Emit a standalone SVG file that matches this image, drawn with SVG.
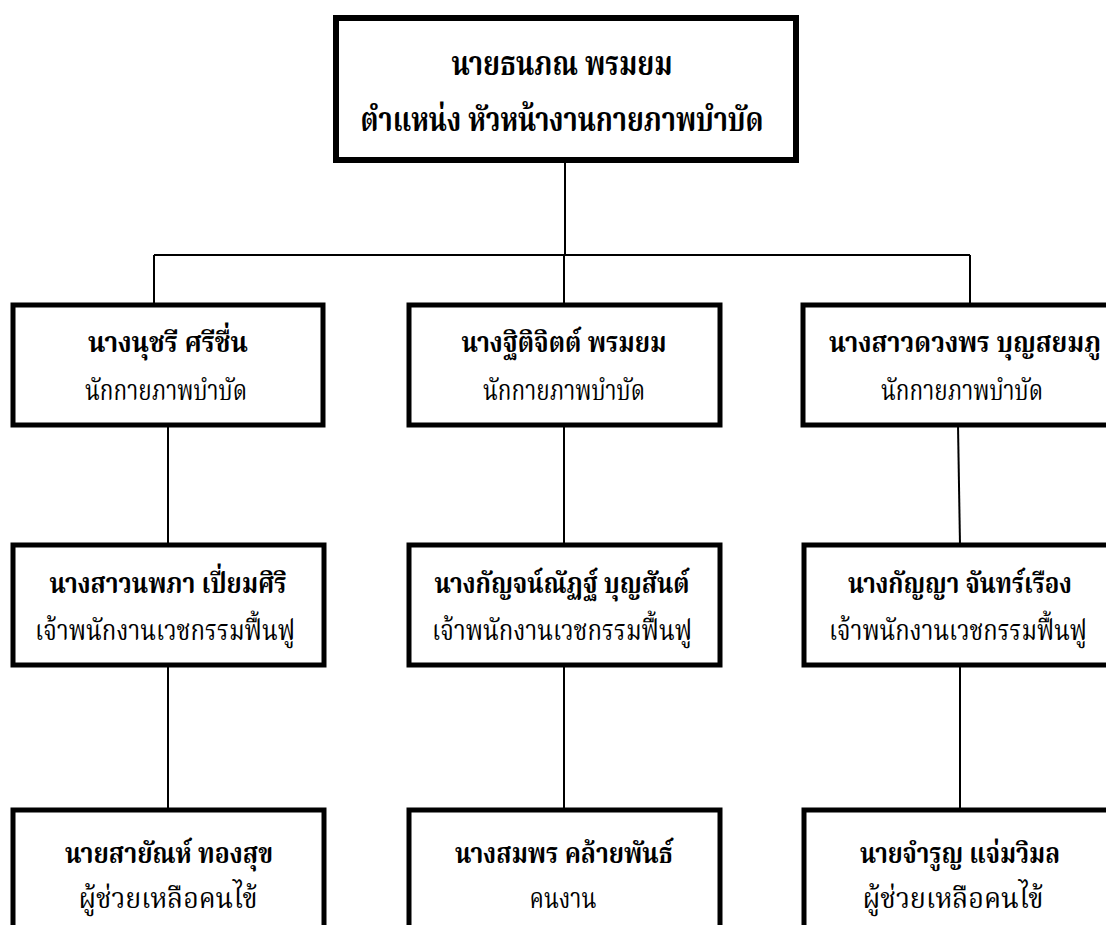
<svg xmlns="http://www.w3.org/2000/svg" width="1106" height="925" viewBox="0 0 1106 925">
<style>
.box{fill:#fff;stroke:#000;stroke-width:5}
.top{fill:#fff;stroke:#000;stroke-width:6}
.c{stroke:#000;stroke-width:2;fill:none}
text{font-family:"Noto Serif Thai","Norasi","Tlwg Typo","Noto Sans Thai","Liberation Serif",serif;fill:#000;text-anchor:middle}
.n{font-weight:bold;font-size:28px}
.p{font-size:28px}
.tn{font-weight:bold;font-size:34px}
</style>
<rect width="1106" height="925" fill="#fff"/>
<g id="connectors">
<line class="c" x1="565" y1="163" x2="565" y2="255"/>
<line class="c" x1="154" y1="255" x2="970" y2="255"/>
<line class="c" x1="154" y1="255" x2="154" y2="305"/>
<line class="c" x1="564" y1="255" x2="564" y2="305"/>
<line class="c" x1="970" y1="255" x2="970" y2="305"/>
<line class="c" x1="168" y1="425" x2="168" y2="545"/>
<line class="c" x1="564" y1="425" x2="564" y2="545"/>
<line class="c" x1="958" y1="425" x2="960" y2="545"/>
<line class="c" x1="168" y1="665" x2="168" y2="810"/>
<line class="c" x1="564" y1="665" x2="564" y2="810"/>
<line class="c" x1="960" y1="665" x2="960" y2="810"/>
</g>
<g id="head">
<rect class="top" x="336" y="18" width="460" height="142"/>
<text class="tn" x="562" y="75" textLength="221" lengthAdjust="spacingAndGlyphs">นายธนภณ  พรมยม</text>
<text class="tn" x="562" y="131" textLength="403" lengthAdjust="spacingAndGlyphs">ตำแหน่ง  หัวหน้างานกายภาพบำบัด</text>
</g>
<g id="n1">
<rect class="box" x="13" y="305" width="310" height="120"/>
<text class="n" x="168" y="352" textLength="160" lengthAdjust="spacingAndGlyphs">นางนุชรี  ศรีชื่น</text>
<text class="p" x="166" y="400" textLength="162" lengthAdjust="spacingAndGlyphs">นักกายภาพบำบัด</text>
</g>
<g id="n2">
<rect class="box" x="409" y="305" width="311" height="120"/>
<text class="n" x="564" y="352" textLength="205" lengthAdjust="spacingAndGlyphs">นางฐิติจิตต์  พรมยม</text>
<text class="p" x="564" y="400" textLength="162" lengthAdjust="spacingAndGlyphs">นักกายภาพบำบัด</text>
</g>
<g id="n3">
<rect class="box" x="803" y="305" width="320" height="120"/>
<text class="n" x="965" y="352" textLength="272" lengthAdjust="spacingAndGlyphs">นางสาวดวงพร  บุญสยมภู</text>
<text class="p" x="962" y="400" textLength="162" lengthAdjust="spacingAndGlyphs">นักกายภาพบำบัด</text>
</g>
<g id="n4">
<rect class="box" x="13" y="545" width="311" height="120"/>
<text class="n" x="168" y="593" textLength="237" lengthAdjust="spacingAndGlyphs">นางสาวนพภา  เปี่ยมศิริ</text>
<text class="p" x="165" y="640" textLength="260" lengthAdjust="spacingAndGlyphs">เจ้าพนักงานเวชกรรมฟื้นฟู</text>
</g>
<g id="n5">
<rect class="box" x="409" y="545" width="311" height="120"/>
<text class="n" x="562" y="593" textLength="255" lengthAdjust="spacingAndGlyphs">นางกัญจน์ณัฏฐ์  บุญสันต์</text>
<text class="p" x="562" y="640" textLength="260" lengthAdjust="spacingAndGlyphs">เจ้าพนักงานเวชกรรมฟื้นฟู</text>
</g>
<g id="n6">
<rect class="box" x="804" y="545" width="320" height="120"/>
<text class="n" x="960" y="593" textLength="224" lengthAdjust="spacingAndGlyphs">นางกัญญา  จันทร์เรือง</text>
<text class="p" x="958" y="640" textLength="258" lengthAdjust="spacingAndGlyphs">เจ้าพนักงานเวชกรรมฟื้นฟู</text>
</g>
<g id="n7">
<rect class="box" x="13" y="810" width="311" height="140"/>
<text class="n" x="169" y="863" textLength="208" lengthAdjust="spacingAndGlyphs">นายสายัณห์  ทองสุข</text>
<text class="p" x="168" y="908" textLength="179" lengthAdjust="spacingAndGlyphs">ผู้ช่วยเหลือคนไข้</text>
</g>
<g id="n8">
<rect class="box" x="409" y="810" width="311" height="140"/>
<text class="n" x="564" y="863" textLength="218" lengthAdjust="spacingAndGlyphs">นางสมพร  คล้ายพันธ์</text>
<text class="p" x="563" y="908" textLength="67" lengthAdjust="spacingAndGlyphs">คนงาน</text>
</g>
<g id="n9">
<rect class="box" x="804" y="810" width="320" height="140"/>
<text class="n" x="960" y="863" textLength="200" lengthAdjust="spacingAndGlyphs">นายจำรูญ  แจ่มวิมล</text>
<text class="p" x="953" y="908" textLength="181" lengthAdjust="spacingAndGlyphs">ผู้ช่วยเหลือคนไข้</text>
</g>
</svg>
